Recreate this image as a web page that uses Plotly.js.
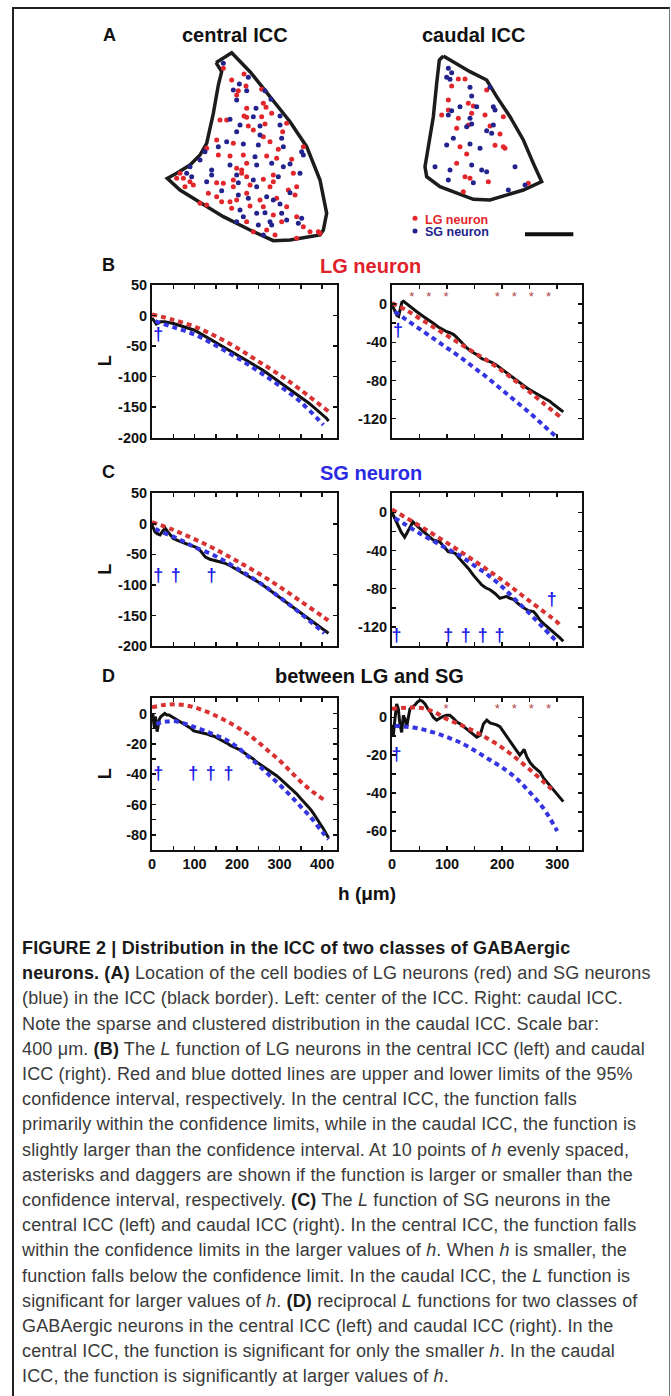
<!DOCTYPE html>
<html><head><meta charset="utf-8">
<script src="https://cdn.plot.ly/plotly-3.0.1.min.js"></script>
<style>
html,body{margin:0;padding:0;background:#fff;}
body{width:671px;height:1396px;position:relative;overflow:hidden;}
#frame{position:absolute;left:12px;top:7px;width:655px;height:1400px;border-left:2px solid #222;border-top:2px solid #222;border-right:1px solid #777;}
#chart{position:absolute;left:0;top:0;width:671px;height:920px;}
#caption{position:absolute;left:22px;top:936px;font-family:'Liberation Sans',Arial,Helvetica,sans-serif;font-size:18px;letter-spacing:0.15px;line-height:25.2px;color:#3a3a3a;white-space:nowrap;}
#caption b{color:#1a1a1a;}
</style></head>
<body>
<div id="frame"></div>
<div id="chart"></div>
<div id="caption">
<div><b>FIGURE 2 | Distribution in the ICC of two classes of GABAergic</b></div>
<div><b>neurons. (A)</b> Location of the cell bodies of LG neurons (red) and SG neurons</div>
<div>(blue) in the ICC (black border). Left: center of the ICC. Right: caudal ICC.</div>
<div>Note the sparse and clustered distribution in the caudal ICC. Scale bar:</div>
<div>400 μm. <b>(B)</b> The <i>L</i> function of LG neurons in the central ICC (left) and caudal</div>
<div>ICC (right). Red and blue dotted lines are upper and lower limits of the 95%</div>
<div>confidence interval, respectively. In the central ICC, the function falls</div>
<div>primarily within the confidence limits, while in the caudal ICC, the function is</div>
<div>slightly larger than the confidence interval. At 10 points of <i>h</i> evenly spaced,</div>
<div>asterisks and daggers are shown if the function is larger or smaller than the</div>
<div>confidence interval, respectively. <b>(C)</b> The <i>L</i> function of SG neurons in the</div>
<div>central ICC (left) and caudal ICC (right). In the central ICC, the function falls</div>
<div>within the confidence limits in the larger values of <i>h</i>. When <i>h</i> is smaller, the</div>
<div>function falls below the confidence limit. In the caudal ICC, the <i>L</i> function is</div>
<div>significant for larger values of <i>h</i>. <b>(D)</b> reciprocal <i>L</i> functions for two classes of</div>
<div>GABAergic neurons in the central ICC (left) and caudal ICC (right). In the</div>
<div>central ICC, the function is significant for only the smaller <i>h</i>. In the caudal</div>
<div>ICC, the function is significantly at larger values of <i>h</i>.</div>
</div>
<script>
// ---------- Panel A: outlines and cell positions (image units) ----------
const centralOutlineX = [378,425,480,540,600,650,690,710,700,690,600,550,480,400,320,270,232,260,300,330,350,370,385,395,378];
const centralOutlineY = [188,158,215,290,365,440,540,640,690,705,720,722,690,650,600,570,535,520,495,465,430,340,255,215,188];
const caudalOutlineX = [1060,1090,1140,1190,1220,1260,1300,1330,1355,1300,1250,1200,1150,1100,1050,1010,1005,1015,1030,1040,1048,1060];
const caudalOutlineY = [168,185,215,240,290,350,420,490,545,570,585,600,598,580,560,530,500,440,350,250,180,168];

const centralLG = [[400,205],[462,222],[425,240],[445,272],[468,258],[440,285],[515,268],[520,310],[470,325],[528,322],[462,348],[470,352],[515,350],[545,340],[390,360],[410,360],[475,378],[525,372],[590,370],[490,390],[520,410],[578,395],[380,420],[430,430],[540,425],[565,448],[350,445],[640,440],[385,465],[420,468],[460,465],[530,468],[560,475],[470,490],[605,478],[440,505],[455,510],[270,520],[455,520],[470,530],[550,525],[610,520],[260,535],[280,535],[300,545],[380,548],[400,550],[430,540],[520,538],[550,545],[285,560],[310,555],[430,560],[480,555],[540,560],[595,570],[620,560],[355,580],[380,590],[470,580],[560,595],[615,585],[395,605],[420,605],[440,600],[510,600],[330,610],[350,615],[425,625],[480,618],[520,620],[590,620],[550,645],[620,650],[470,665],[575,665],[640,680],[490,695],[530,690],[660,695],[685,695],[555,705],[620,715],[690,700]];
const centralSG = [[400,190],[475,232],[448,252],[430,270],[470,272],[440,300],[525,272],[543,298],[498,325],[490,350],[570,348],[420,358],[450,375],[510,378],[570,375],[440,395],[510,405],[575,415],[410,425],[460,432],[505,435],[580,440],[385,440],[345,455],[635,455],[640,465],[495,470],[330,480],[420,495],[500,495],[545,490],[600,492],[300,500],[365,510],[580,500],[290,520],[305,530],[365,525],[440,525],[565,530],[630,520],[350,545],[445,548],[490,540],[395,572],[500,560],[445,585],[530,590],[550,600],[600,578],[475,595],[450,630],[570,612],[460,650],[500,640],[525,638],[575,640],[635,655],[440,665],[540,665],[590,660],[505,675],[545,675],[625,670],[520,705]];
const caudalLG = [[1105,237],[1125,237],[1085,258],[1075,300],[1190,270],[1135,310],[1150,318],[1075,330],[1055,345],[1105,355],[1145,340],[1185,345],[1240,350],[1135,375],[1200,378],[1100,385],[1230,402],[1110,440],[1215,436],[1240,440],[1245,445],[1130,462],[1100,490],[1125,530],[1140,535],[1195,545],[1315,550],[1120,575]];
const caudalSG = [[1075,205],[1085,218],[1070,232],[1080,238],[1140,262],[1200,262],[1145,288],[1110,320],[1160,320],[1210,320],[1215,330],[1085,332],[1075,345],[1140,355],[1145,372],[1130,380],[1210,375],[1190,392],[1205,400],[1090,415],[1140,432],[1170,445],[1070,435],[1145,495],[1175,510],[1190,515],[1275,500],[1035,500],[1080,510],[1150,548],[1075,540],[1255,570],[1305,555]];
const scaleBarX = [1305,1450];
const scaleBarY = [703,703];

// ---------- Panel B (LG neuron) ----------
const bL_h = [0,5,10,15,20,30,40,50,60,70,80,90,100,110,120,130,140,150,160,170,180,190,200,210,220,230,240,250,260,270,280,290,300,310,320,330,340,350,360,370,380,390,400,410,415];
const bL_L = [-4,-9,-14,-12,-10,-10,-11,-13,-15,-17,-19,-21,-24,-28,-32,-36,-40,-44,-48,-52,-56,-60,-64,-68,-72,-77,-81,-85,-89,-94,-99,-104,-109,-113,-118,-123,-128,-133,-138,-144,-150,-156,-162,-168,-173];
const bL_upH = [0,50,100,150,200,250,300,350,415];
const bL_up = [2,-7,-18,-34,-53,-75,-97,-122,-157];
const bL_loH = [8,15,50,100,150,200,250,300,350,403];
const bL_lo = [-9,-11,-19,-31,-49,-69,-91,-115,-142,-179];
const bL_dagH = [15];
const bL_dagL = [-32];

const bR_h = [0,3,6,9,12,15,18,21,25,30,38,45,57,66,75,84,93,100,105,112,118,127,136,142,148,154,160,166,172,181,190,199,208,217,226,235,245,254,263,272,281,287,293,300,306,311];
const bR_L = [-1,-4,-8,-12,-13,-5,2,3,1,-1,-5,-8,-13,-17,-20,-24,-27,-29,-30,-32,-35,-41,-46,-49,-51,-53,-56,-58,-59,-61,-64,-68,-72,-76,-80,-84,-88,-91,-94,-97,-100,-102,-105,-108,-110,-113];
const bR_upH = [0,25,50,75,100,125,150,175,200,225,250,275,305];
const bR_up = [1,-6,-15,-24,-33,-42,-51,-60,-70,-81,-92,-104,-118];
const bR_loH = [5,25,50,75,100,125,150,175,200,225,250,275,300];
const bR_lo = [-8,-16,-26,-36,-46,-56,-67,-78,-90,-102,-114,-127,-140];
const bR_starH = [36,67,98,191,222,253,284];
const bR_starL = [7,7,7,7,7,7,7];
const bR_dagH = [11];
const bR_dagL = [-29];

// ---------- Panel C (SG neuron) ----------
const cL_h = [0,4,7,12,19,25,31,36,43,50,60,70,82,95,105,115,125,136,148,160,170,185,203,220,237,254,270,288,305,320,338,356,375,395,415];
const cL_L = [-2,-7,-13,-16,-18,-12,-7,-12,-19,-24,-27,-30,-33,-36,-39,-45,-54,-58,-60,-62,-64,-69,-76,-83,-90,-97,-105,-114,-124,-131,-140,-149,-158,-168,-179];
const cL_upH = [0,50,100,150,200,250,300,350,400,420];
const cL_up = [3,-10,-25,-42,-61,-81,-103,-127,-151,-161];
const cL_loH = [8,15,25,50,75,100,150,200,250,300,350,405];
const cL_lo = [-8,-11,-14,-21,-29,-38,-53,-73,-95,-120,-147,-179];
const cL_dagH = [15,56,140];
const cL_dagL = [-86,-86,-86];

const cR_h = [0,5,11,17,23,30,38,45,57,66,75,87,95,102,110,115,122,130,139,148,156,163,170,178,187,196,202,208,214,220,230,239,248,257,263,269,278,287,296,304,311];
const cR_L = [0,-6,-15,-21,-26,-18,-10,-14,-20,-25,-29,-31,-36,-41,-42,-43,-48,-53,-59,-66,-71,-76,-79,-81,-85,-90,-89,-88,-90,-91,-96,-100,-103,-104,-108,-113,-118,-123,-127,-131,-135];
const cR_upH = [0,50,100,150,200,250,300,305];
const cR_up = [3,-14,-32,-51,-71,-93,-115,-118];
const cR_loH = [5,25,50,75,100,125,150,175,200,225,250,275,300];
const cR_lo = [-6,-13,-22,-30,-38,-46,-56,-66,-78,-92,-106,-121,-136];
const cR_dagH = [8,102,134,165,195,290];
const cR_dagL = [-130,-130,-130,-130,-130,-92];

// ---------- Panel D (between LG and SG) ----------
const dL_h = [0,2,4,6,8,10,12,14,17,21,25,30,35,40,46,52,58,66,74,82,90,98,105,112,120,129,138,146,152,160,168,176,184,192,199,207,215,223,230,238,246,254,262,270,278,286,293,301,309,317,325,332,340,348,356,364,372,380,388,396,403,410,415];
const dL_L = [-4,0,-6,-10,-2,-7,-12,-9,-4,-2,-1,0,-1,-1,-2,-3,-4,-5,-6.5,-8,-9.5,-11.5,-12,-12,-13,-13.5,-14.5,-15,-16,-17,-18,-19.5,-21,-22,-23,-24,-25.5,-27,-28.5,-30,-32,-33.5,-35,-36.5,-38,-40,-41,-43,-45,-47,-49,-51,-53,-55.5,-58,-60,-63,-66,-70,-73,-76,-79,-82];
const dL_upH = [0,25,50,75,100,125,150,175,200,225,250,275,300,325,350,375,405];
const dL_up = [4,5.5,6,5.5,4,1.5,-1.5,-5,-9,-13.5,-19,-25,-31,-38,-45,-51,-57];
const dL_loH = [10,20,30,50,75,100,125,150,175,200,225,250,275,300,325,350,375,400,415];
const dL_lo = [-7,-6,-5.5,-5,-6.5,-9,-11.5,-14.5,-17.5,-22,-28,-34,-40.5,-47,-54,-61.5,-69,-78,-83];
const dL_dagH = [15,97,138,180];
const dL_dagL = [-40,-40,-40,-40];

const dR_h = [0,2.4,5.5,8.5,11.5,14.5,17.6,20.6,23.6,26.7,29.7,32.7,37,41.8,46,51,55,60,65,69,75,81,87,93,99,105,111,118,124,130,136,142,148,154,160,166,172,178,184,190,196,202,208,214,220,226,232,236,240,245,251,257,263,269,275,281,287,293,299,305,311];
const dR_L = [-4,-9.5,-0.5,7,4.5,-4,-8,1,-1,-5,0,4.5,5.5,6.5,8,9,8.5,7,4.5,3,0,-1.5,-0.5,0.5,1,1,-0.5,-2.5,-3.5,-5,-6,-7.5,-9,-10.5,-9.5,-3.5,-1.5,-3,-3.5,-4,-5,-7.5,-10,-13,-15.5,-18,-20,-18.5,-17,-21,-24,-26,-27.5,-29,-32,-34,-36,-38,-40,-42,-44.5];
const dR_upH = [0,25,50,75,100,125,150,175,200,225,250,275,290];
const dR_up = [4.5,5,5,3,-1,-4,-7.5,-11.5,-16,-21.5,-27.5,-34,-38];
const dR_loH = [5,25,50,75,100,125,150,175,200,225,250,275,300];
const dR_lo = [-4.5,-5,-6,-8,-10.5,-13.5,-17.5,-22,-26.5,-32,-39.5,-48,-60];
const dR_starH = [98,191,222,253,284];
const dR_starL = [4,4,4,4,4];
const dR_dagH = [8];
const dR_dagL = [-20];

// ---------- ticks ----------
const xTicksLeft = [0,50,100,150,200,250,300,350,400];
const xLabelsLeft = ['0','','100','','200','','300','','400'];
const xTicksRight = [0,50,100,150,200,250,300];
const xLabelsRight = ['0','','100','','200','','300'];
const yTicksBCLeft = [-200,-150,-100,-50,0,50];
const yLabelsBCLeft = ['-200','-150','-100','-50','0','50'];
const yTicksBCRight = [-140,-120,-100,-80,-60,-40,-20,0,20];
const yLabelsBCRight = ['','-120','','-80','','-40','','0',''];
const yTicksDLeft = [-90,-80,-70,-60,-50,-40,-30,-20,-10,0,10];
const yLabelsDLeft = ['','-80','','-60','','-40','','-20','','0',''];
const yTicksDRight = [-70,-60,-50,-40,-30,-20,-10,0,10];
const yLabelsDRight = ['','-60','','-40','','-20','','0',''];

// ---------- build ----------
const F = "'Liberation Sans', Arial, Helvetica, sans-serif";
const RED = '#d93232', BLUE = '#3434e2', BLK = '#111111';
const W = 671, H = 920;
const px = v => v / W, py = v => 1 - v / H;

const traces = [];
function col(arr, i){ return arr.map(p => p[i]); }

// Panel A
traces.push({x:centralOutlineX, y:centralOutlineY, xaxis:'x7', yaxis:'y7', mode:'lines', line:{color:'#1c1c1c', width:3.5}, hoverinfo:'skip'});
traces.push({x:caudalOutlineX, y:caudalOutlineY, xaxis:'x7', yaxis:'y7', mode:'lines', line:{color:'#1c1c1c', width:3.5}, hoverinfo:'skip'});
[[centralLG,'#e2262c'],[caudalLG,'#e2262c'],[centralSG,'#23238e'],[caudalSG,'#23238e']].forEach(([pts,c]) => {
  traces.push({x:col(pts,0), y:col(pts,1), xaxis:'x7', yaxis:'y7', mode:'markers', marker:{color:c, size:5}, hoverinfo:'skip'});
});
traces.push({x:[975], y:[655], xaxis:'x7', yaxis:'y7', mode:'markers', marker:{color:'#e2262c', size:5}, hoverinfo:'skip'});
traces.push({x:[975], y:[693], xaxis:'x7', yaxis:'y7', mode:'markers', marker:{color:'#23238e', size:5}, hoverinfo:'skip'});
traces.push({x:scaleBarX, y:scaleBarY, xaxis:'x7', yaxis:'y7', mode:'lines', line:{color:'#111', width:4}, hoverinfo:'skip'});

function panel(ax, h, L, upH, up, loH, lo, starH, starL, dagH, dagL){
  const xa = 'x' + (ax === 1 ? '' : ax), ya = 'y' + (ax === 1 ? '' : ax);
  traces.push({x:h, y:L, xaxis:xa, yaxis:ya, mode:'lines', line:{color:BLK, width:3}, hoverinfo:'skip'});
  traces.push({x:upH, y:up, xaxis:xa, yaxis:ya, mode:'lines', line:{color:RED, width:4, dash:'5px,4px', shape:'spline'}, hoverinfo:'skip'});
  traces.push({x:loH, y:lo, xaxis:xa, yaxis:ya, mode:'lines', line:{color:BLUE, width:4, dash:'5px,4px', shape:'spline'}, hoverinfo:'skip'});
  if (starH) traces.push({x:starH, y:starL, xaxis:xa, yaxis:ya, mode:'text', text:starH.map(()=> '*'), textposition:'middle center', textfont:{family:F, size:13, color:'#b04848'}, hoverinfo:'skip'});
  if (dagH) traces.push({x:dagH, y:dagL, xaxis:xa, yaxis:ya, mode:'text', text:dagH.map(()=> '†'), textposition:'middle center', textfont:{family:F, size:18, color:'#1c1ce6', weight:'bold'}, hoverinfo:'skip'});
}
panel(1, bL_h, bL_L, bL_upH, bL_up, bL_loH, bL_lo, null, null, bL_dagH, bL_dagL);
panel(2, bR_h, bR_L, bR_upH, bR_up, bR_loH, bR_lo, bR_starH, bR_starL, bR_dagH, bR_dagL);
panel(3, cL_h, cL_L, cL_upH, cL_up, cL_loH, cL_lo, null, null, cL_dagH, cL_dagL);
panel(4, cR_h, cR_L, cR_upH, cR_up, cR_loH, cR_lo, null, null, cR_dagH, cR_dagL);
panel(5, dL_h, dL_L, dL_upH, dL_up, dL_loH, dL_lo, null, null, dL_dagH, dL_dagL);
panel(6, dR_h, dR_L, dR_upH, dR_up, dR_loH, dR_lo, dR_starH, dR_starL, dR_dagH, dR_dagL);

const base = {showline:true, linecolor:BLK, linewidth:2, mirror:'allticks', ticks:'inside', ticklen:4, tickwidth:1.5, tickcolor:BLK,
  showgrid:false, zeroline:false, fixedrange:true, tickmode:'array', tickfont:{family:F, size:14.5, color:BLK, weight:'bold'}};
const xDomL = [px(152), px(337)], xDomR = [px(392), px(582)];
const yDomB = [py(437.7), py(285)], yDomC = [py(646), py(493.3)], yDomD = [py(850), py(698.3)];

function xa(dom, range, tv, tt, show, anchor){ return Object.assign({}, base, {domain:dom, range:range, tickvals:tv, ticktext:tt, showticklabels:show, anchor:anchor}); }
function ya(dom, range, tv, tt, anchor){ return Object.assign({}, base, {domain:dom, range:range, tickvals:tv, ticktext:tt, anchor:anchor}); }

const layout = {
  width:W, height:H, autosize:false, margin:{l:0,r:0,t:0,b:0}, showlegend:false,
  paper_bgcolor:'rgba(0,0,0,0)', plot_bgcolor:'rgba(0,0,0,0)',
  xaxis:  xa(xDomL, [0,435], xTicksLeft, xLabelsLeft, false, 'y'),
  yaxis:  ya(yDomB, [-200,50], yTicksBCLeft, yLabelsBCLeft, 'x'),
  xaxis2: xa(xDomR, [0,345], xTicksRight, xLabelsRight, false, 'y2'),
  yaxis2: ya(yDomB, [-140,20], yTicksBCRight, yLabelsBCRight, 'x2'),
  xaxis3: xa(xDomL, [0,435], xTicksLeft, xLabelsLeft, false, 'y3'),
  yaxis3: ya(yDomC, [-200,50], yTicksBCLeft, yLabelsBCLeft, 'x3'),
  xaxis4: xa(xDomR, [0,345], xTicksRight, xLabelsRight, false, 'y4'),
  yaxis4: ya(yDomC, [-140,20], yTicksBCRight, yLabelsBCRight, 'x4'),
  xaxis5: xa(xDomL, [0,435], xTicksLeft, xLabelsLeft, true, 'y5'),
  yaxis5: ya(yDomD, [-90,10], yTicksDLeft, yLabelsDLeft, 'x5'),
  xaxis6: xa(xDomR, [0,345], xTicksRight, xLabelsRight, true, 'y6'),
  yaxis6: ya(yDomD, [-70,10], yTicksDRight, yLabelsDRight, 'x6'),
  xaxis7: {domain:[px(90), px(590)], range:[0,1500], visible:false, fixedrange:true, anchor:'y7'},
  yaxis7: {domain:[py(260), py(0)], range:[780,0], visible:false, fixedrange:true, anchor:'x7'},
  annotations: []
};

function ann(text, x, y, size, color, extra){
  layout.annotations.push(Object.assign({text:text, x:x, y:y, xref:'paper', yref:'paper', showarrow:false, xanchor:'center', yanchor:'middle',
    font:{family:F, size:size, color:color || BLK}}, extra || {}));
}
ann('<b>A</b>', px(110), py(35), 18);
ann('<b>central ICC</b>', px(235), py(35), 20);
ann('<b>caudal ICC</b>', px(473), py(35), 20);
ann('<b>B</b>', px(109), py(265), 18);
ann('<b>LG neuron</b>', px(370.5), py(265.5), 20, '#e0202a');
ann('<b>C</b>', px(109), py(472), 18);
ann('<b>SG neuron</b>', px(370.5), py(472.5), 20, '#2a2ae2');
ann('<b>D</b>', px(109), py(676), 18);
ann('<b>between LG and SG</b>', px(370), py(676), 20);
ann('<b>L</b>', px(105), py(361.3), 18, BLK, {textangle:-90});
ann('<b>L</b>', px(105), py(569.7), 18, BLK, {textangle:-90});
ann('<b>L</b>', px(105), py(774.2), 18, BLK, {textangle:-90});
ann('<b>h (μm)</b>', px(367), py(893), 19);
layout.annotations.push({text:'<b>LG neuron</b>', x:1000, y:659, xref:'x7', yref:'y7', showarrow:false, xanchor:'left', yanchor:'middle', font:{family:F, size:12.5, color:'#e2262c'}});
layout.annotations.push({text:'<b>SG neuron</b>', x:1000, y:695, xref:'x7', yref:'y7', showarrow:false, xanchor:'left', yanchor:'middle', font:{family:F, size:12.5, color:'#23238e'}});

Plotly.newPlot('chart', traces, layout, {staticPlot:true, displayModeBar:false});
</script>
</body></html>
